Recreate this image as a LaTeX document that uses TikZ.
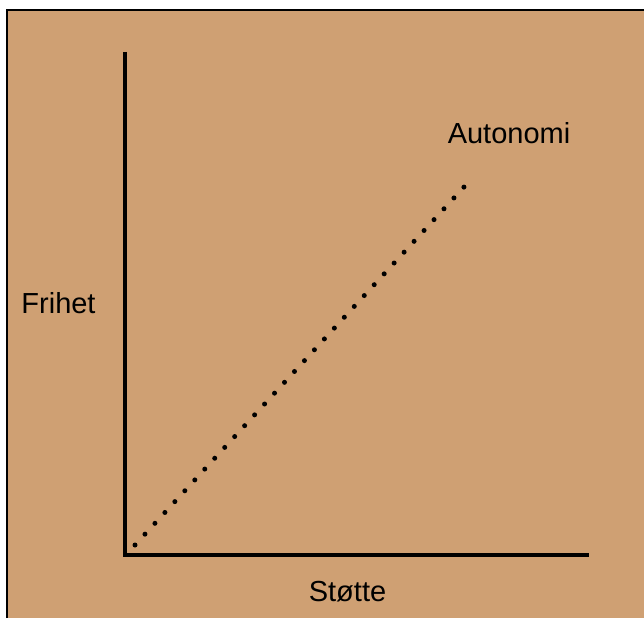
\documentclass[tikz,border=0pt]{standalone}
\usepackage{fontspec}
\setmainfont{Liberation Sans}
\definecolor{tan}{RGB}{207,160,115}
\begin{document}
\begin{tikzpicture}[x=1pt, y=-1pt]
\useasboundingbox (0,0) rectangle (644,618);
\fill[white] (0,0) rectangle (644,618);
\fill[tan] (7,10) rectangle (644,618);
\draw[line width=1.5pt] (7,618) -- (7,10) -- (644,10);

\coordinate (top) at (125,52);
\coordinate (o) at (125,555);
\coordinate (right) at (589,555);
\coordinate (start) at (135,545);
\coordinate (end) at (464,187);

\node[font=\fontsize{29}{32}\selectfont, anchor=base] (f) at (58.5,313) {Frihet};
\node[font=\fontsize{29}{32}\selectfont, anchor=base] (s) at (347.5,601) {Støtte};
\node[font=\fontsize{29}{32}\selectfont, anchor=base] (a) at (509,143) {Autonomi};

\draw[line width=4.5pt] (top) -- (o) -- (right);
\draw[line width=5pt, line cap=round, dash pattern=on 0pt off 14.73pt] (start) -- (end);
\end{tikzpicture}
\end{document}
